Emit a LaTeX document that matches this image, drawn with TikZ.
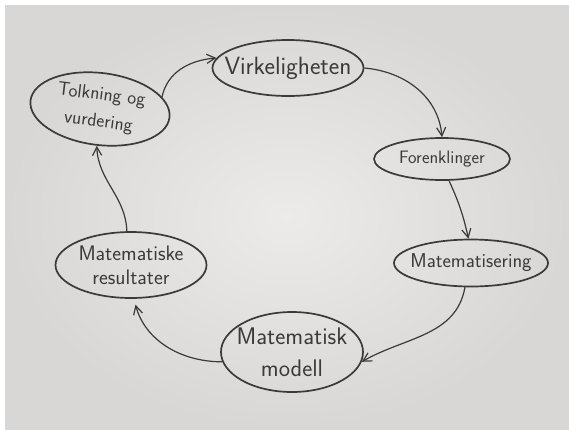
\documentclass[tikz,border=0pt]{standalone}
\usepackage{xcolor}
\usepackage{tikz}
\usetikzlibrary{arrows.meta,positioning,shapes.geometric}
\definecolor{pencil}{RGB}{58,58,56}
\definecolor{paperin}{RGB}{236,235,233}
\definecolor{paperout}{RGB}{216,215,213}
\tikzset{
  stage/.style={ellipse, draw=pencil, line width=1.7pt, inner sep=0pt,
                align=center, text=pencil,
                font=\sffamily\fontsize{18}{24}\selectfont},
  flow/.style={-{Straight Barb[length=3mm,width=3.2mm]}, line width=1.2pt, color=pencil},
}
\begin{document}
\begin{tikzpicture}[x=1pt,y=1pt]
  % paper
  \fill[white] (0,0) rectangle (569,-429);
  \shade[inner color=paperin, outer color=paperout] (5,-5) rectangle (569,-429);
  \useasboundingbox (0,0) rectangle (569,-429);

  \node[stage, minimum width=151pt, minimum height=56pt, inner xsep=-15pt,
        font=\sffamily\fontsize{25}{28}\selectfont] (virk) at (288,-68) {Virkeligheten};
  \node[stage, minimum width=136pt, minimum height=42pt, inner xsep=-3pt] (foren) at (442,-159) {Forenklinger};
  \node[stage, minimum width=154pt, minimum height=47pt, inner xsep=-11pt,
        font=\sffamily\fontsize{20}{24}\selectfont] (matser) at (471,-263) {Matematisering};
  \node[stage, minimum width=142pt, minimum height=80pt, inner xsep=-9pt,
        font=\sffamily\fontsize{24}{32}\selectfont] (modell) at (292,-352) {Matematisk\\modell};
  \node[stage, minimum width=151pt, minimum height=66pt, inner xsep=-4pt,
        font=\sffamily\fontsize{21}{24}\selectfont] (result) at (131,-265) {Matematiske\\resultater};
  \node[stage, minimum width=140pt, minimum height=72pt, inner xsep=-4pt, rotate=-7,
        font=\sffamily\fontsize{19}{27}\selectfont] (tolk) at (100,-109) {Tolkning og\\vurdering};

  \draw[flow] (tolk.18) to[out=78,in=185] (virk.172);
  \draw[flow] (virk.east) to[out=-5,in=95] (foren.north);
  \draw[flow] (foren.-72) to[bend left=6] (matser.96);
  \draw[flow] (matser.-104) to[out=-100,in=30] (modell.-8);
  \draw[flow, shorten >=6pt] (modell.188) to[out=180,in=-75] (result.-85);
  \draw[flow] (result.97) to[out=92,in=-88] (tolk.-88);
\end{tikzpicture}
\end{document}
